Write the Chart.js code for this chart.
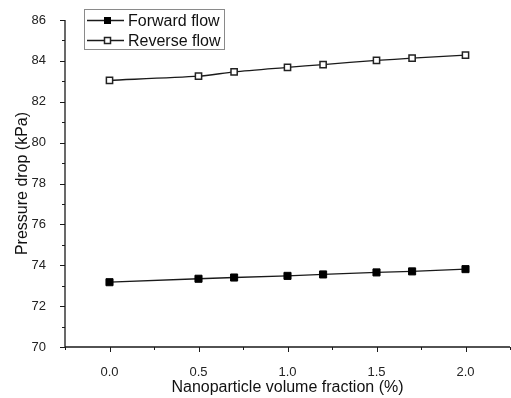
<!DOCTYPE html>
<html>
<head>
<meta charset="utf-8">
<script src="https://cdn.jsdelivr.net/npm/chart.js"></script>
<style>
  html, body { margin: 0; padding: 0; background: #fff; }
  #wrap { width: 511px; height: 398px; position: relative; }
</style>
</head>
<body>
<div id="wrap"><canvas id="chart"></canvas></div>
<script>
// volume fraction (%) and pressure drop (kPa)
const fractions = [0.0, 0.5, 0.7, 1.0, 1.2, 1.5, 1.7, 2.0];
const forwardFlow = [73.17, 73.34, 73.40, 73.48, 73.55, 73.65, 73.70, 73.81];
const reverseFlow = [83.05, 83.25, 83.46, 83.68, 83.82, 84.02, 84.13, 84.28];
const seriesNames = ['Forward flow', 'Reverse flow'];
const xTitle = 'Nanoparticle volume fraction (%)';
const yTitle = 'Pressure drop (kPa)';

const INK = '#1a1a1a';
const FONT = '"Liberation Sans", Arial, sans-serif';

const toPoints = ys => fractions.map((x, i) => ({ x, y: ys[i] }));

// draws only left + bottom axis lines with outward major/minor ticks
const axesPlugin = {
  id: 'axesPlugin',
  afterDraw(chart) {
    const { ctx, chartArea: a, scales: { x, y } } = chart;
    ctx.save();
    ctx.strokeStyle = INK;
    ctx.lineWidth = 1.3;
    ctx.beginPath();
    ctx.moveTo(a.left, a.top); ctx.lineTo(a.left, a.bottom); ctx.lineTo(a.right, a.bottom);
    ctx.stroke();
    ctx.lineWidth = 1;
    ctx.beginPath();
    y.ticks.forEach(t => {
      const py = Math.round(y.getPixelForValue(t.value)) + 0.5;
      const len = t.value % 2 === 0 ? 5 : 3;
      ctx.moveTo(a.left - len, py); ctx.lineTo(a.left, py);
    });
    x.ticks.forEach(t => {
      const px = Math.round(x.getPixelForValue(t.value)) + 0.5;
      const major = Math.abs(t.value * 2 - Math.round(t.value * 2)) < 1e-6;
      const len = major ? 5 : 3;
      ctx.moveTo(px, a.bottom); ctx.lineTo(px, a.bottom + len);
    });
    ctx.stroke();
    ctx.restore();
  }
};

// boxed legend with line + marker samples
const boxLegend = {
  id: 'boxLegend',
  afterDraw(chart) {
    const { ctx } = chart;
    const bx = 84, by = 9, bw = 140, bh = 40;
    ctx.save();
    ctx.fillStyle = '#fff';
    ctx.fillRect(bx, by, bw, bh);
    ctx.strokeStyle = '#8a8a8a';
    ctx.lineWidth = 1;
    ctx.strokeRect(bx + 0.5, by + 0.5, bw, bh);
    ctx.font = '16px ' + FONT;
    ctx.textBaseline = 'middle';
    chart.data.datasets.forEach((ds, i) => {
      const cy = by + 11.5 + i * 20;
      ctx.strokeStyle = ds.borderColor;
      ctx.lineWidth = 1.3;
      ctx.beginPath(); ctx.moveTo(87, cy); ctx.lineTo(124, cy); ctx.stroke();
      ctx.fillStyle = ds.pointBackgroundColor;
      ctx.strokeStyle = ds.pointBorderColor;
      ctx.lineWidth = ds.pointBorderWidth;
      ctx.fillRect(104.5, cy - 3, 6, 6);
      ctx.strokeRect(104.5, cy - 3, 6, 6);
      ctx.fillStyle = '#111';
      ctx.fillText(ds.label, 128, cy + 1);
    });
    ctx.restore();
  }
};

new Chart(document.getElementById('chart'), {
  type: 'line',
  data: {
    datasets: [
      {
        label: seriesNames[0],
        data: toPoints(forwardFlow),
        borderColor: INK,
        borderWidth: 1.3,
        pointStyle: 'rect',
        pointRadius: 5,
        pointBackgroundColor: '#000',
        pointBorderColor: '#000',
        pointBorderWidth: 1,
        tension: 0
      },
      {
        label: seriesNames[1],
        data: toPoints(reverseFlow),
        borderColor: INK,
        borderWidth: 1.3,
        pointStyle: 'rect',
        pointRadius: 4.4,
        pointBackgroundColor: '#fff',
        pointBorderColor: '#222',
        pointBorderWidth: 1.5,
        tension: 0.25
      }
    ]
  },
  options: {
    responsive: true,
    maintainAspectRatio: false,
    animation: false,
    layout: { autoPadding: false, padding: { top: 20, right: 1, left: 0, bottom: 0 } },
    plugins: { legend: { display: false }, tooltip: { enabled: false } },
    scales: {
      x: {
        type: 'linear',
        min: -0.25, max: 2.25,
        afterFit(s) { s.height = 51; s.paddingLeft = 0; s.paddingRight = 0; },
        grid: { display: false },
        border: { display: false },
        ticks: {
          stepSize: 0.25,
          padding: 10,
          color: '#222',
          font: { family: FONT, size: 13 },
          maxRotation: 0,
          autoSkip: false,
          callback: v => Math.abs(v * 2 - Math.round(v * 2)) < 1e-6 && v >= 0 && v <= 2 ? v.toFixed(1) : ''
        },
        title: { display: true, text: xTitle, color: '#111', font: { family: FONT, size: 16 }, padding: { top: 0, bottom: 1 } }
      },
      y: {
        min: 70, max: 86,
        afterFit(s) { s.width = 65; },
        grid: { display: false },
        border: { display: false },
        ticks: {
          stepSize: 1,
          padding: 11,
          color: '#222',
          font: { family: FONT, size: 13 },
          autoSkip: false,
          callback: v => v % 2 === 0 ? String(v) : ''
        },
        title: { display: true, text: yTitle, color: '#111', font: { family: FONT, size: 16 }, padding: { top: 13, bottom: 0 } }
      }
    }
  },
  plugins: [axesPlugin, boxLegend]
});
</script>
</body>
</html>
